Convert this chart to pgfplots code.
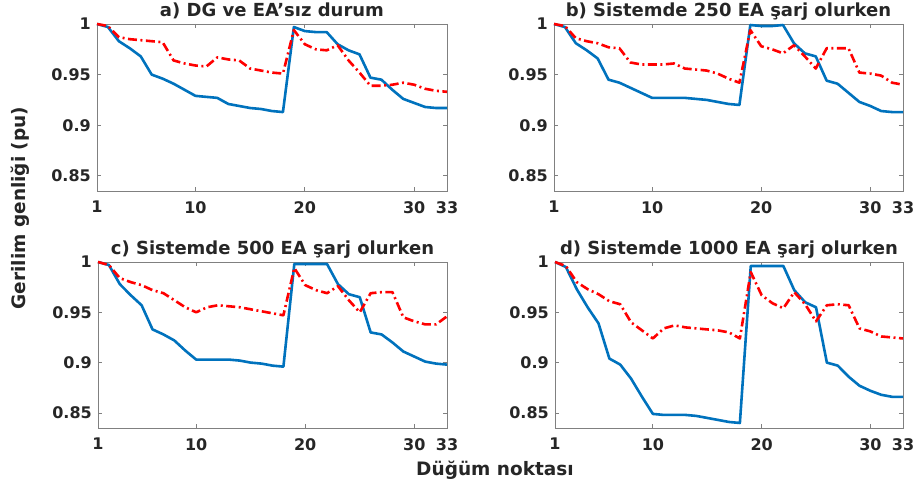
\documentclass[border=0pt]{standalone}
\usepackage{pgfplots}
\pgfplotsset{compat=1.18}
\usepackage{pgfplotstable}
\usepackage{fontspec}
\setmainfont{DejaVu Sans}

\definecolor{mblue}{rgb}{0,0.447,0.741}
\definecolor{axgray}{rgb}{0.15,0.15,0.15}

% node, blue (solid), red (dash-dot)
\pgfplotstableread{
n b r
1 1.000 1.000
2 0.997 0.998
3 0.983 0.987
4 0.976 0.985
5 0.968 0.984
6 0.950 0.983
7 0.946 0.982
8 0.941 0.964
9 0.935 0.961
10 0.929 0.959
11 0.928 0.958
12 0.927 0.967
13 0.921 0.965
14 0.919 0.964
15 0.917 0.956
16 0.916 0.954
17 0.914 0.952
18 0.913 0.951
19 0.997 0.994
20 0.993 0.980
21 0.992 0.975
22 0.992 0.974
23 0.980 0.979
24 0.974 0.964
25 0.970 0.952
26 0.947 0.939
27 0.945 0.939
28 0.935 0.940
29 0.926 0.942
30 0.922 0.940
31 0.918 0.936
32 0.917 0.934
33 0.917 0.933
}\tabA

\pgfplotstableread{
n b r
1 1.000 1.000
2 0.997 0.998
3 0.981 0.986
4 0.974 0.983
5 0.966 0.981
6 0.945 0.977
7 0.942 0.976
8 0.937 0.962
9 0.932 0.960
10 0.927 0.960
11 0.927 0.960
12 0.927 0.961
13 0.927 0.956
14 0.926 0.955
15 0.925 0.954
16 0.923 0.951
17 0.921 0.946
18 0.920 0.942
19 0.999 0.994
20 0.998 0.978
21 0.998 0.975
22 0.999 0.971
23 0.981 0.979
24 0.971 0.968
25 0.968 0.956
26 0.944 0.976
27 0.941 0.976
28 0.932 0.976
29 0.923 0.952
30 0.919 0.951
31 0.914 0.949
32 0.913 0.942
33 0.913 0.940
}\tabB

\pgfplotstableread{
n b r
1 1.000 1.000
2 0.997 0.997
3 0.978 0.984
4 0.967 0.980
5 0.957 0.977
6 0.933 0.972
7 0.928 0.969
8 0.922 0.962
9 0.912 0.955
10 0.903 0.950
11 0.903 0.955
12 0.903 0.957
13 0.903 0.956
14 0.902 0.955
15 0.900 0.953
16 0.899 0.951
17 0.897 0.949
18 0.896 0.947
19 0.998 0.994
20 0.998 0.977
21 0.998 0.972
22 0.998 0.969
23 0.978 0.976
24 0.968 0.962
25 0.965 0.950
26 0.930 0.969
27 0.928 0.970
28 0.920 0.970
29 0.911 0.945
30 0.906 0.941
31 0.901 0.938
32 0.899 0.938
33 0.898 0.946
}\tabC

\pgfplotstableread{
n b r
1 1.000 1.000
2 0.995 0.996
3 0.973 0.980
4 0.955 0.973
5 0.939 0.968
6 0.904 0.961
7 0.898 0.958
8 0.884 0.940
9 0.866 0.932
10 0.849 0.924
11 0.848 0.934
12 0.848 0.937
13 0.848 0.935
14 0.847 0.934
15 0.845 0.933
16 0.843 0.932
17 0.841 0.930
18 0.840 0.924
19 0.996 0.990
20 0.996 0.967
21 0.996 0.959
22 0.996 0.954
23 0.972 0.970
24 0.960 0.958
25 0.955 0.941
26 0.900 0.957
27 0.897 0.958
28 0.886 0.957
29 0.877 0.934
30 0.872 0.931
31 0.868 0.926
32 0.866 0.925
33 0.866 0.924
}\tabD

\pgfplotsset{
  panel/.style={
    scale only axis, width=350pt, height=167pt,
    anchor=south west, clip=false,
    xmin=1, xmax=33, ymin=0.835, ymax=1,
    xtick={1,10,20,30,33}, xticklabels={1,10,20,30,33},
    ytick={0.85,0.9,0.95,1}, yticklabels={0.85,0.9,0.95,1},
    tick align=inside, major tick length=4pt,
    axis line style={gray, line width=0.8pt},
    tick style={gray, line width=0.8pt},
    ticklabel style={font=\bfseries\fontsize{16}{18}\selectfont, text=axgray, inner sep=0pt},
    xticklabel style={anchor=north, yshift=-10pt},
    yticklabel style={anchor=east, xshift=-6pt},
    title style={font=\bfseries\fontsize{18}{20}\selectfont, text=axgray,
      at={(0.5,1)}, anchor=base, inner sep=0pt, yshift=1.5pt},
  },
  bl/.style={mblue, line width=2.6pt, line join=round},
  rd/.style={red, line width=2.6pt, line join=round,
    dash pattern=on 9pt off 3.5pt on 2pt off 3.5pt},
}

\begin{document}
\begin{tikzpicture}
\useasboundingbox (0,0) rectangle (915pt,483pt);

\begin{axis}[panel, at={(97pt,292pt)}, title={a) DG ve EA'sız durum}]
\addplot[bl] table[x=n,y=b] {\tabA};
\addplot[rd] table[x=n,y=r] {\tabA};
\end{axis}

\begin{axis}[panel, at={(554pt,292pt)}, width=349pt, title={b) Sistemde 250 EA şarj olurken}]
\addplot[bl] table[x=n,y=b] {\tabB};
\addplot[rd] table[x=n,y=r] {\tabB};
\end{axis}

\begin{axis}[panel, at={(98pt,55pt)}, height=166pt, width=349pt, title={c) Sistemde 500 EA şarj olurken}]
\addplot[bl] table[x=n,y=b] {\tabC};
\addplot[rd] table[x=n,y=r] {\tabC};
\end{axis}

\begin{axis}[panel, at={(555pt,55pt)}, height=166pt, width=348pt, title={d) Sistemde 1000 EA şarj olurken}]
\addplot[bl] table[x=n,y=b] {\tabD};
\addplot[rd] table[x=n,y=r] {\tabD};
\end{axis}

\node[rotate=90, font=\bfseries\fontsize{18.5}{20}\selectfont, text=axgray] at (20pt,275pt) {Gerilim genliği (pu)};
\node[font=\bfseries\fontsize{18.5}{20}\selectfont, text=axgray] at (495pt,13pt) {Düğüm noktası};
\end{tikzpicture}
\end{document}
